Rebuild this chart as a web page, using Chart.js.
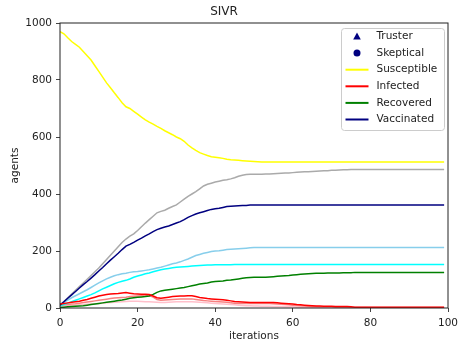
<!DOCTYPE html>
<html><head><meta charset="utf-8">
<script src="https://cdn.jsdelivr.net/npm/chart.js@4/dist/chart.umd.min.js"></script>
<style>html,body{margin:0;padding:0;background:#fff;}#wrap{width:459px;height:345px;}</style>
</head><body><div id="wrap"><canvas id="c" width="459" height="345"></canvas></div>
<script>
const iterations = Array.from({length: 100}, (_, i) => i);
const xTickValues = [0, 20, 40, 60, 80, 100];
const yTickValues = [0, 200, 400, 600, 800, 1000];

const susceptible = [
970,962,948,935,925,915,900,885,870,850,
830,810,790,773,755,738,720,706,700,690,
680,670,660,652,645,637,630,622,615,608,
600,594,585,572,562,553,545,540,535,531,
529,527,525,522,520,519,518,517,516,515,
514,513,512,512,512,512,512,512,512,512,
512,512,512,512,512,512,512,512,512,512,
512,512,512,512,512,512,512,512,512,512,
512,512,512,512,512,512,512,512,512,512,
512,512,512,512,512,512,512,512,512,512];
const infected = [
14,16,18,20,22,24,27,30,34,38,
42,45,47,49,50,51,53,54,52,50,
49,48,48,47,42,36,34,36,38,40,
41,42,42,43,43,40,37,35,33,32,
31,30,29,27,25,23,22,21,20,19,
19,19,19,19,19,19,18,17,16,15,
14,12,11,10,9,8,7,7,6,6,
6,5,5,5,5,4,3,3,3,3,
3,3,3,3,3,3,3,3,3,3,
3,3,3,3,3,3,3,3,3,3];
const recovered = [
2,3,4,5,6,7,8,10,12,14,
16,18,20,22,24,26,28,31,34,36,
38,39,40,42,48,55,60,62,64,66,
68,70,72,75,78,81,84,86,88,91,
93,94,95,97,98,100,102,104,106,107,
108,108,108,108,109,110,111,112,113,114,
116,117,118,119,120,121,122,122,122,123,
123,123,123,124,124,124,125,125,125,125,
125,125,125,125,125,125,125,125,125,125,
125,125,125,125,125,125,125,125,125,125];
const vaccinated = [
10,22,34,46,58,70,82,93,105,117,
130,142,155,168,180,192,205,217,223,230,
238,245,253,260,268,275,280,284,288,293,
298,303,310,318,324,330,334,338,342,346,
348,350,353,356,357,358,359,360,360,361,
361,361,361,361,361,361,361,361,361,361,
361,361,361,361,361,361,361,361,361,361,
361,361,361,361,361,361,361,361,361,361,
361,361,361,361,361,361,361,361,361,361,
361,361,361,361,361,361,361,361,361,361];
const greySeries = [
10,23,36,49,62,75,88,101,114,127,
140,155,170,185,200,215,230,242,252,260,
272,285,298,310,322,334,339,343,350,356,
362,372,382,392,400,408,418,428,434,438,
442,445,448,450,453,457,462,466,468,469,
469,469,469,470,470,471,472,473,474,474,
475,476,477,478,478,479,480,481,482,482,
483,483,484,485,485,486,486,486,486,486,
486,486,486,486,486,486,486,486,486,486,
486,486,486,486,486,486,486,486,486,486];
const skyBlueSeries = [
12,20,28,36,43,50,57,64,72,80,
88,95,102,108,113,117,120,122,125,127,
128,130,132,134,137,140,143,147,151,155,
158,162,167,172,178,184,188,192,195,198,
200,201,203,205,206,207,208,209,210,211,
212,212,212,212,212,212,212,212,212,212,
212,212,212,212,212,212,212,212,212,212,
212,212,212,212,212,212,212,212,212,212,
212,212,212,212,212,212,212,212,212,212,
212,212,212,212,212,212,212,212,212,212];
const cyanSeries = [
8,12,17,22,27,32,37,42,47,53,
60,67,73,79,85,90,94,97,102,108,
112,116,120,123,127,131,134,137,139,141,
143,144,145,146,147,148,149,150,151,151,
152,152,152,152,152,153,153,153,153,153,
153,153,153,153,153,153,153,153,153,153,
153,153,153,153,153,153,153,153,153,153,
153,153,153,153,153,153,153,153,153,153,
153,153,153,153,153,153,153,153,153,153,
153,153,153,153,153,153,153,153,153,153];
const salmonSeries = [
10,11,12,14,15,17,19,21,23,25,
27,29,31,33,35,36,37,38,40,41,
42,43,44,44,38,30,27,28,29,30,
31,32,32,32,32,30,28,26,25,24,
23,22,21,20,18,17,16,16,16,16,
16,16,16,16,16,15,14,13,12,11,
10,9,8,7,6,5,5,4,4,4,
4,3,3,3,3,2,2,2,2,2,
2,2,2,2,2,2,2,2,2,2,
2,2,2,2,2,2,2,2,2,2];
const pinkSeries = [
6,7,8,9,10,11,12,13,14,15,
16,17,18,19,20,21,22,23,24,24,
24,23,22,22,21,20,19,19,20,21,
22,22,22,22,22,21,20,19,18,17,
16,15,14,13,12,11,10,9,8,8,
7,7,6,6,6,5,5,5,4,4,
4,3,3,3,3,2,2,2,2,2,
2,2,2,2,2,2,2,2,2,2,
1,1,1,1,1,1,1,1,1,1,
1,1,1,1,1,1,1,1,1,1];

const FONT = 'DejaVu Sans';
const TEXT = '#222222';
const toXY = arr => arr.map((v, i) => ({x: iterations[i], y: v}));

function lineSet(label, arr, color, inLegend) {
  return {label, data: toXY(arr), borderColor: color, backgroundColor: color,
    borderWidth: 1.5, pointRadius: 0, fill: false, tension: 0, inLegend, legendKind: 'line'};
}

const datasets = [
  {label: 'Truster', data: [], borderColor: '#000080', backgroundColor: '#000080', showLine: false, pointRadius: 0, inLegend: true, legendKind: 'triangle'},
  {label: 'Skeptical', data: [], borderColor: '#000080', backgroundColor: '#000080', showLine: false, pointRadius: 0, inLegend: true, legendKind: 'circle'},
  lineSet('Susceptible', susceptible, '#ffff00', true),
  lineSet('Infected', infected, '#ff0000', true),
  lineSet('Recovered', recovered, '#008000', true),
  lineSet('Vaccinated', vaccinated, '#000080', true),
  lineSet('grey series', greySeries, '#aaaaaa', false),
  lineSet('sky blue series', skyBlueSeries, '#87ceeb', false),
  lineSet('cyan series', cyanSeries, '#00ffff', false),
  lineSet('salmon series', salmonSeries, '#f88080', false),
  lineSet('pink series', pinkSeries, '#ffc0cb', false)
];

const framePlugin = {
  id: 'frame',
  afterDatasetsDraw(chart) {
    const {ctx, chartArea: a} = chart;
    ctx.save();
    ctx.strokeStyle = '#222';
    ctx.lineWidth = 1;
    ctx.strokeRect(Math.round(a.left), Math.round(a.top), Math.round(a.right) - Math.round(a.left), Math.round(a.bottom) - Math.round(a.top));
    ctx.restore();
  }
};

const boxLegend = {
  id: 'boxLegend',
  afterDraw(chart) {
    const {ctx, chartArea: a} = chart;
    const items = chart.data.datasets.filter(d => d.inLegend);
    const w = 103, h = 102;
    const x0 = Math.round(a.right) - 106.5, y0 = Math.round(a.top) + 5.5;
    ctx.save();
    ctx.beginPath();
    const r = 3;
    ctx.moveTo(x0 + r, y0);
    ctx.lineTo(x0 + w - r, y0); ctx.quadraticCurveTo(x0 + w, y0, x0 + w, y0 + r);
    ctx.lineTo(x0 + w, y0 + h - r); ctx.quadraticCurveTo(x0 + w, y0 + h, x0 + w - r, y0 + h);
    ctx.lineTo(x0 + r, y0 + h); ctx.quadraticCurveTo(x0, y0 + h, x0, y0 + h - r);
    ctx.lineTo(x0, y0 + r); ctx.quadraticCurveTo(x0, y0, x0 + r, y0);
    ctx.closePath();
    ctx.fillStyle = 'rgba(255,255,255,0.8)';
    ctx.fill();
    ctx.strokeStyle = '#cccccc';
    ctx.lineWidth = 1;
    ctx.stroke();
    ctx.font = '10.5px "' + FONT + '"';
    ctx.textBaseline = 'middle';
    ctx.textAlign = 'left';
    items.forEach((d, i) => {
      const cy = y0 + 8 + i * 16.6;
      const lx = x0 + 4, rx = x0 + 27, mx = (lx + rx) / 2;
      ctx.fillStyle = d.borderColor;
      ctx.strokeStyle = d.borderColor;
      if (d.legendKind === 'line') {
        ctx.lineWidth = 2;
        ctx.beginPath(); ctx.moveTo(lx, cy); ctx.lineTo(rx, cy); ctx.stroke();
      } else if (d.legendKind === 'triangle') {
        ctx.beginPath();
        ctx.moveTo(mx, cy - 4); ctx.lineTo(mx + 3.8, cy + 3); ctx.lineTo(mx - 3.8, cy + 3);
        ctx.closePath(); ctx.fill();
      } else {
        ctx.beginPath(); ctx.arc(mx, cy, 3.5, 0, Math.PI * 2); ctx.fill();
      }
      ctx.fillStyle = TEXT;
      ctx.fillText(d.label, x0 + 35, cy);
    });
    ctx.restore();
  }
};

new Chart(document.getElementById('c'), {
  type: 'line',
  data: {datasets},
  options: {
    responsive: false,
    animation: false,
    devicePixelRatio: 1,
    layout: {padding: {left: 0, right: 11, top: 0, bottom: 0}},
    plugins: {
      legend: {display: false},
      tooltip: {enabled: false},
      title: {display: true, text: 'SIVR', color: TEXT, font: {family: FONT, size: 12, weight: 'normal', lineHeight: 1.2}, padding: {top: 5, bottom: 3.6}}
    },
    scales: {
      x: {
        type: 'linear', min: 0, max: 100,
        afterBuildTicks: s => { s.ticks = xTickValues.map(v => ({value: v})); },
        ticks: {color: TEXT, font: {family: FONT, size: 10.5}, padding: 5, maxRotation: 0, autoSkip: false, callback: v => String(v)},
        grid: {drawOnChartArea: false, drawTicks: true, tickLength: 4, color: '#444', lineWidth: 1},
        border: {display: false},
        title: {display: true, text: 'iterations', color: TEXT, font: {family: FONT, size: 10.5, lineHeight: 1.2}, padding: {top: 0, bottom: 2}},
        afterFit: s => { s.height = 37; s.paddingLeft = 0; s.paddingRight = 0; }
      },
      y: {
        type: 'linear', min: 0, max: 1000,
        afterBuildTicks: s => { s.ticks = yTickValues.map(v => ({value: v})); },
        ticks: {color: TEXT, font: {family: FONT, size: 10.5}, padding: 4, autoSkip: false, callback: v => String(v)},
        grid: {drawOnChartArea: false, drawTicks: true, tickLength: 4, color: '#444', lineWidth: 1},
        border: {display: false},
        title: {display: true, text: 'agents', color: TEXT, font: {family: FONT, size: 10.5, lineHeight: 1.2}, padding: {top: 9, bottom: 0}},
        afterFit: s => { s.width = 60; }
      }
    }
  },
  plugins: [framePlugin, boxLegend]
});
</script></body></html>
